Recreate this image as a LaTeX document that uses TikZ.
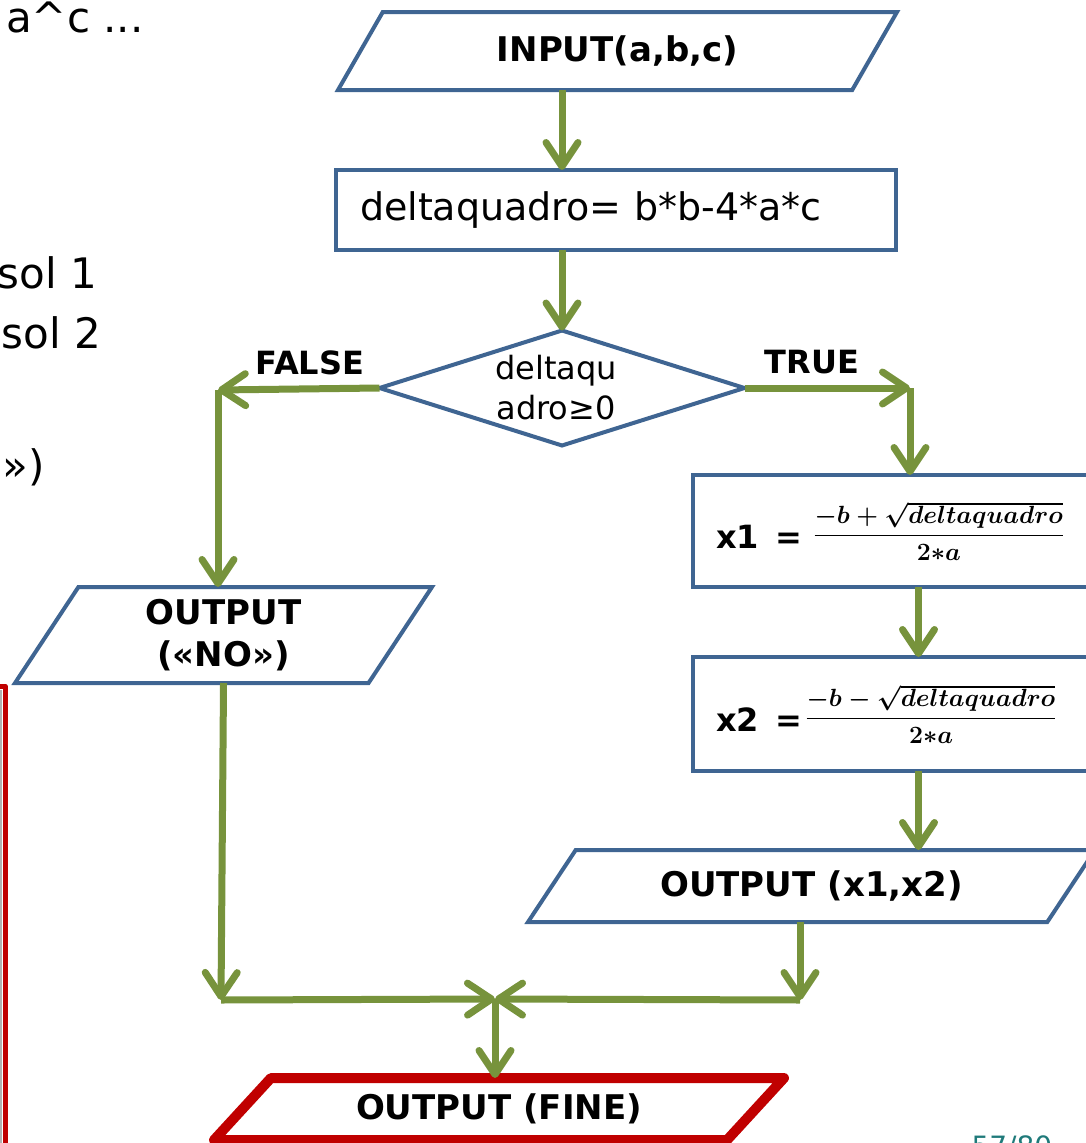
\documentclass[tikz,border=0pt]{standalone}
\usepackage{fontspec}
\setmainfont{DejaVu Sans}
\usepackage{amsmath}
\usetikzlibrary{shapes.geometric, arrows.meta, positioning, calc}
\definecolor{flowblue}{HTML}{3F6592}
\definecolor{flowgreen}{HTML}{77933C}
\definecolor{finered}{HTML}{C00000}
\definecolor{pageteal}{HTML}{1F7A7A}
\newcommand{\rootfrac}[1]{%
  \ensuremath{\boldsymbol{\dfrac{-b#1\sqrt{deltaquadro}}{2{\ast}a}}}}

\begin{document}
\begin{tikzpicture}[x=1pt, y=-1pt,
  io/.style={trapezium, trapezium stretches body, draw=flowblue, line width=4pt,
             fill=white, align=center, inner sep=0pt, outer sep=0pt,
             font=\fontsize{34}{42}\selectfont\bfseries},
  proc/.style={rectangle, draw=flowblue, line width=4pt, fill=white,
               inner sep=0pt, outer sep=0pt},
  decision/.style={diamond, draw=flowblue, line width=4pt, fill=white,
                   inner sep=0pt, outer sep=0pt},
  fine/.style={io, draw=finered, line width=10pt, line join=round},
  arr/.style={-{Straight Barb[length=24pt, width=32pt, line cap=round, line join=round]},
              draw=flowgreen, line width=7pt},
  lbl/.style={font=\fontsize{32}{38}\selectfont\bfseries, inner sep=0pt},
  side/.style={font=\fontsize{42}{50}\selectfont, inner sep=0pt},
  formula/.style={font=\fontsize{27}{31}\selectfont}
]
\useasboundingbox (0,0) rectangle (1086,1143);

\node[side, anchor=base west] (sidea) at (6,32) {a\textasciicircum c ...};
\node[side, anchor=base east] (sideb) at (97,288) {sol 1};
\node[side, anchor=base east] (sidec) at (101,348) {sol 2};
\node[side, anchor=base east] (sided) at (45,480) {»)};
\draw[finered, line width=5pt, line join=round] (-2,686) -- (5,686) -- (5,1150);
\draw[gray!60, line width=2pt] (1,690) -- (1,1150);

\node[io, trapezium left angle=34.4, trapezium right angle=145.6,
      minimum width=559pt, minimum height=78pt] (input) at (617.5,51) {INPUT(a,b,c)};
\node[proc, minimum width=560pt, minimum height=80pt, text width=512pt, align=left,
      font=\fontsize{38}{44}\selectfont] (assign) at (616,210) {deltaquadro= b*b-4*a*c};
\node[decision, minimum width=365pt, minimum height=115pt] (dec) at (562,388) {};
\node[align=center, inner sep=0pt, font=\fontsize{32}{40}\selectfont] (dectext)
  at (556,388) {deltaqu\\adro≥0};
\node[io, trapezium left angle=48.5, trapezium right angle=131.5,
      minimum width=417pt, minimum height=96pt] (outno) at (223.5,635) {OUTPUT\\{}(«NO»)};
\node[proc, minimum width=407pt, minimum height=112pt] (xone) at (896.5,531) {};
\node[proc, minimum width=407pt, minimum height=114pt] (xtwo) at (896.5,714) {};
\node[lbl, anchor=west] (xonelbl) at (716,537) {x1\enspace=};
\node[formula, anchor=west] (xonefrac) at (810,531) {\rootfrac{+}};
\node[lbl, anchor=west] (xtwolbl) at (716,720) {x2\enspace=};
\node[formula, anchor=west] (xtwofrac) at (802,714) {\rootfrac{-}};
\node[io, trapezium left angle=32.7, trapezium right angle=147.3,
      minimum width=567pt, minimum height=72pt] (outx) at (811.5,886) {OUTPUT (x1,x2)};
\node[fine, trapezium left angle=28, trapezium right angle=152,
      minimum width=570pt, minimum height=62pt] (outfine) at (499,1109) {OUTPUT (FINE)};

\node[lbl] (falselbl) at (310,363) {FALSE};
\node[lbl] (truelbl) at (812,362) {TRUE};
\node[anchor=base west, text=pageteal, font=\fontsize{28}{32}\selectfont] (pagenum)
  at (968,1156) {57/80};

\coordinate (fcorner) at (218,390);
\coordinate (tcorner) at (910,388);
\coordinate (lcorner) at (221,1000);
\coordinate (rcorner) at (800,1000);
\coordinate (jn) at (495,999);

\draw[arr] (input.south -| dec) -- (assign.north -| dec);
\draw[arr] (assign.south -| dec) -- (dec.north);
\draw[arr] (dec.west) -- (fcorner);
\draw[arr] (fcorner) -- (fcorner |- outno.north);
\draw[arr] (dec.east) -- (tcorner);
\draw[arr] (tcorner) -- (tcorner |- xone.north);
\draw[arr] ([xshift=22pt]xone.south) -- ([xshift=22pt]xtwo.north);
\draw[arr] ([xshift=22pt]xtwo.south) -- ([xshift=22pt]xtwo.south |- outx.north);
\draw[arr] (outno.south) -- (lcorner);
\draw[arr] (lcorner) -- (jn);
\draw[arr] (outx.south -| rcorner) -- (rcorner);
\draw[arr] (rcorner) -- (jn);
\draw[arr] (jn) -- (jn |- outfine.north);
\end{tikzpicture}
\end{document}
